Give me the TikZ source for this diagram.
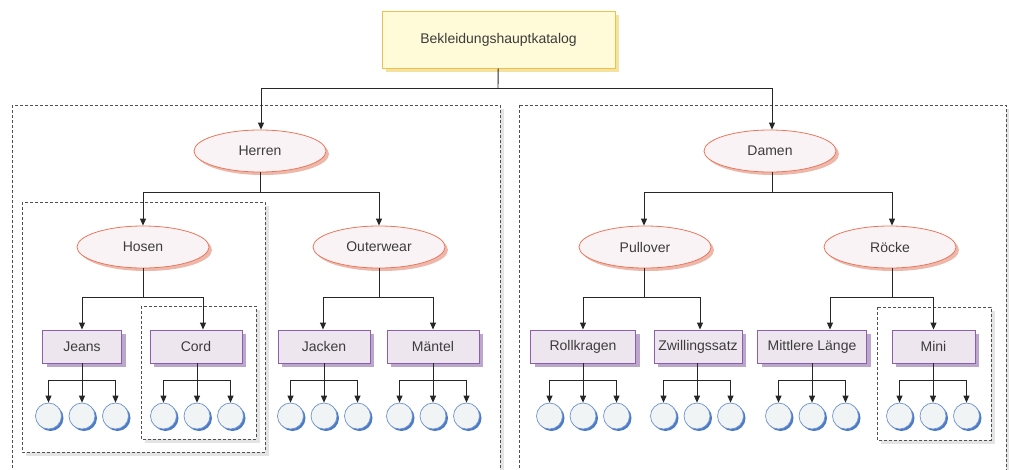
\documentclass[tikz,border=0pt]{standalone}
\usepackage{fontspec}
\setmainfont{Liberation Sans}
\usetikzlibrary{shapes.geometric,shadows,arrows.meta}

\definecolor{txt}{HTML}{3C3C3C}
\definecolor{goldline}{HTML}{EEC24A}
\definecolor{goldfill}{HTML}{FFFBD8}
\definecolor{goldshade}{HTML}{F3E2A2}
\definecolor{redline}{HTML}{EA775C}
\definecolor{redfill}{HTML}{FAF3F6}
\definecolor{redshade}{HTML}{EDB8AA}
\definecolor{violetline}{HTML}{8D5EA9}
\definecolor{violetfill}{HTML}{EDE6EE}
\definecolor{violetshade}{HTML}{BCA7CC}
\definecolor{blueline}{HTML}{6F92D0}
\definecolor{bluefill}{HTML}{F0F4F4}
\definecolor{blueshade}{HTML}{4C7CC6}
\definecolor{dashgray}{HTML}{505050}
\definecolor{areashade}{HTML}{E4E4E4}

\begin{document}
\begin{tikzpicture}[x=1pt,y=-1pt,
    font=\fontsize{14}{16}\selectfont,
    every node/.style={text=txt},
    conn/.style={line width=0.9pt, black!85},
    arr/.style={conn, -{Triangle[length=7pt,width=6pt]}},
    topbox/.style={draw=goldline, fill=goldfill, line width=0.8pt,
        minimum width=233pt, minimum height=57pt,
        general shadow={fill=goldshade, shadow xshift=3.5pt, shadow yshift=-3.5pt}},
    ellnode/.style={ellipse, draw=redline, fill=redfill, line width=0.8pt,
        minimum width=132pt, minimum height=42pt, inner sep=0pt,
        general shadow={fill=redshade, shadow xshift=3pt, shadow yshift=-3pt}},
    catnode/.style={draw=violetline, fill=violetfill, line width=0.9pt,
        minimum height=33pt, inner sep=0pt,
        general shadow={fill=violetshade, shadow xshift=4pt, shadow yshift=-4pt}},
    leafnode/.style={circle, draw=blueline, fill=bluefill, line width=0.7pt,
        minimum size=26pt, inner sep=0pt,
        general shadow={fill=blueshade, shadow xshift=2pt, shadow yshift=-2pt}},
    areabox/.style={draw=dashgray, dash pattern=on 3pt off 2pt, line width=0.9pt,
        fill=white, general shadow={fill=areashade, shadow xshift=4pt, shadow yshift=-4pt}}
]
\clip (0,0) rectangle (1009,469);

% dashed areas
\draw[areabox] (12,105) rectangle (500,500);
\draw[areabox] (519,105) rectangle (1006,500);
\draw[areabox] (22,202) rectangle (265,452);
\draw[areabox] (141,306) rectangle (256,439);
\draw[areabox] (877,307) rectangle (991,440);

% nodes
\node[topbox] (katalog) at (498.5,39.5) {Bekleidungshauptkatalog};

\node[ellnode] (herren) at (260,151) {Herren};
\node[ellnode] (damen) at (770,151) {Damen};

\node[ellnode] (hosen) at (143,247) {Hosen};
\node[ellnode] (outerwear) at (379,247) {Outerwear};
\node[ellnode] (pullover) at (645,247) {Pullover};
\node[ellnode] (roecke) at (890,247) {Röcke};

\node[catnode, minimum width=79pt] (jeans) at (82,346.5) {Jeans};
\node[catnode, minimum width=92pt] (cord) at (196,346.5) {Cord};
\node[catnode, minimum width=92pt] (jacken) at (324,346.5) {Jacken};
\node[catnode, minimum width=92pt] (maentel) at (433,346.5) {Mäntel};
\node[catnode, minimum width=105pt] (rollkragen) at (583,346.5) {Rollkragen};
\node[catnode, minimum width=88pt] (zwilling) at (698,346.5) {Zwillingssatz};
\node[catnode, minimum width=109pt] (mittel) at (812,346.5) {Mittlere Länge};
\node[catnode, minimum width=83pt] (mini) at (933.5,346.5) {Mini};

% branches
\coordinate (katalog-b) at (498,88);
\draw[conn] (katalog) -- (katalog-b);
\draw[arr] (katalog-b) -| ([xshift=1pt]herren.north);
\draw[arr] (katalog-b) -| ([xshift=2pt]damen.north);

\coordinate (herren-b) at (260,192);
\draw[conn] (herren) -- (herren-b);
\draw[arr] (herren-b) -| (hosen);
\draw[arr] (herren-b) -| (outerwear);

\coordinate (damen-b) at (770,192);
\draw[conn] ([xshift=2pt]damen.south) -- ([xshift=2pt]damen-b);
\draw[arr] (damen-b) -| ([xshift=-1pt]pullover.north);
\draw[arr] (damen-b) -| ([xshift=2pt]roecke.north);

\coordinate (hosen-b) at (143,297);
\draw[conn] (hosen) -- (hosen-b);
\draw[arr] (hosen-b) -| (jeans);
\draw[arr] (hosen-b) -| ([xshift=7pt]cord.north);

\coordinate (outerwear-b) at (379,297);
\draw[conn] (outerwear) -- (outerwear-b);
\draw[arr] (outerwear-b) -| ([xshift=-1pt]jacken.north);
\draw[arr] (outerwear-b) -| (maentel);

\coordinate (pullover-b) at (644,297);
\draw[conn] ([xshift=-1pt]pullover.south) -- (pullover-b);
\draw[arr] (pullover-b) -| (rollkragen);
\draw[arr] (pullover-b) -| ([xshift=2pt]zwilling.north);

\coordinate (roecke-b) at (892,297);
\draw[conn] ([xshift=2pt]roecke.south) -- (roecke-b);
\draw[arr] (roecke-b) -| ([xshift=18pt]mittel.north);
\draw[arr] (roecke-b) -| (mini);

% leaves
\foreach \p/\x in {jeans/82, cord/197, jacken/324, maentel/433,
                   rollkragen/583, zwilling/697, mittel/812, mini/933}{
  \coordinate (\p-b) at (\x,380);
  \draw[conn] (\x,363) -- (\p-b);
  \foreach \d in {-1,0,1}{
    \node[leafnode] (\p\d) at (\x+\d*33.5,416) {};
    \draw[arr] (\p-b) -| (\p\d);
  }
}
\end{tikzpicture}
\end{document}
